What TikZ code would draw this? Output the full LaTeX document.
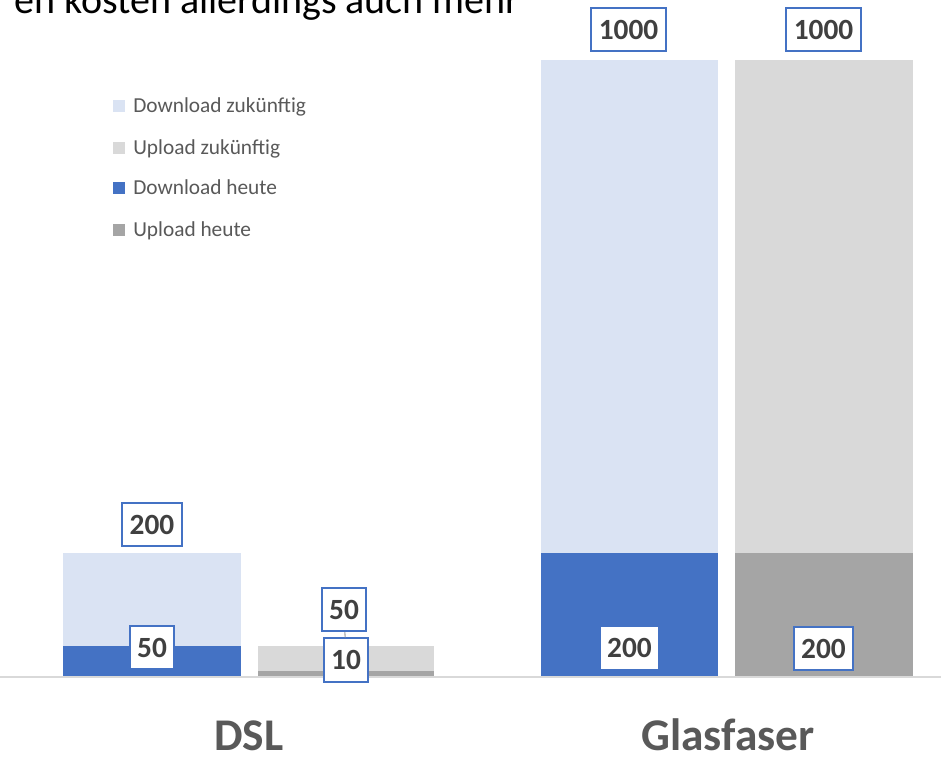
\documentclass[tikz,border=0pt]{standalone}
\usepackage{fontspec}
\setmainfont{Carlito}
\usetikzlibrary{positioning}
\definecolor{dlfut}{HTML}{DAE3F3}
\definecolor{ulfut}{HTML}{D9D9D9}
\definecolor{dlnow}{HTML}{4472C4}
\definecolor{ulnow}{HTML}{A5A5A5}
\definecolor{txtgray}{HTML}{595959}
\definecolor{numgray}{HTML}{404040}
\tikzset{
  val/.style={draw=dlnow, line width=1.5pt, fill=white, text=numgray,
    font=\fontsize{22}{25}\selectfont\bfseries, minimum height=32.5pt,
    inner xsep=5.5pt, inner ysep=0pt},
  legtext/.style={anchor=base west, text=txtgray,
    font=\fontsize{16}{19}\selectfont, inner sep=0pt},
  cat/.style={anchor=base, text=txtgray, inner sep=0pt,
    font=\fontsize{34}{40}\selectfont\bfseries},
}
\begin{document}
\begin{tikzpicture}[x=0.75pt, y=-0.75pt]
        \useasboundingbox (0,0) rectangle (941,757);
        \clip (0,0) rectangle (941,757);
        \fill[white] (0,0) rectangle (941,757);

        % title line, cut at the top
        \node[anchor=base east, inner sep=0pt, font=\fontsize{30}{34}\selectfont] (title) at (520,13) {en kosten allerdings auch mehr};

        % bars
        \fill[dlfut] (63,553) rectangle (241,676);
        \fill[dlnow] (63,646) rectangle (241,676);
        \fill[ulfut] (258,646) rectangle (434,676);
        \fill[ulnow] (258,671) rectangle (434,676);
        \fill[dlfut] (541,60) rectangle (718,676);
        \fill[dlnow] (541,553) rectangle (718,676);
        \fill[ulfut] (735,60) rectangle (913,676);
        \fill[ulnow] (735,553) rectangle (913,676);
        \draw[ulfut, line width=1.2pt] (0,677) -- (941,677);

        % legend
        \foreach \y/\c/\t/\n in {105.5/dlfut/Download zukünftig/legdlfut,
                                 147.5/ulfut/Upload zukünftig/legulfut,
                                 188/dlnow/Download heute/legdlnow,
                                 230/ulnow/Upload heute/legulnow} {
            \fill[\c] (113,\y-6) rectangle (125,\y+6);
            \node[legtext] (\n) at (133,\y+6.5) {\t};
        }

        % values
        \node[val] (dsldlfut) at (152,524.5) {200};
        \node[val] (dsldlnow) at (152,647.5) {50};
        \node[val] (dslulfut) at (344,609.5) {50};
        \node[val] (dslulnow) at (346,660) {10};
        \draw[ulnow, line width=0.8pt] (dslulfut) -- (dslulnow);
        \node[val] (gfdlfut) at (628.5,29.5) {1000};
        \node[val] (gfulfut) at (823.5,29.5) {1000};
        \node[val] (gfdlnow) at (629.5,648) {200};
        \node[val] (gfulnow) at (823.5,648.5) {200};

        % categories
        \node[cat] (dsl) at (249,750) {DSL};
        \node[cat] (glas) at (728,750) {Glasfaser};
    \end{tikzpicture}
\end{document}
